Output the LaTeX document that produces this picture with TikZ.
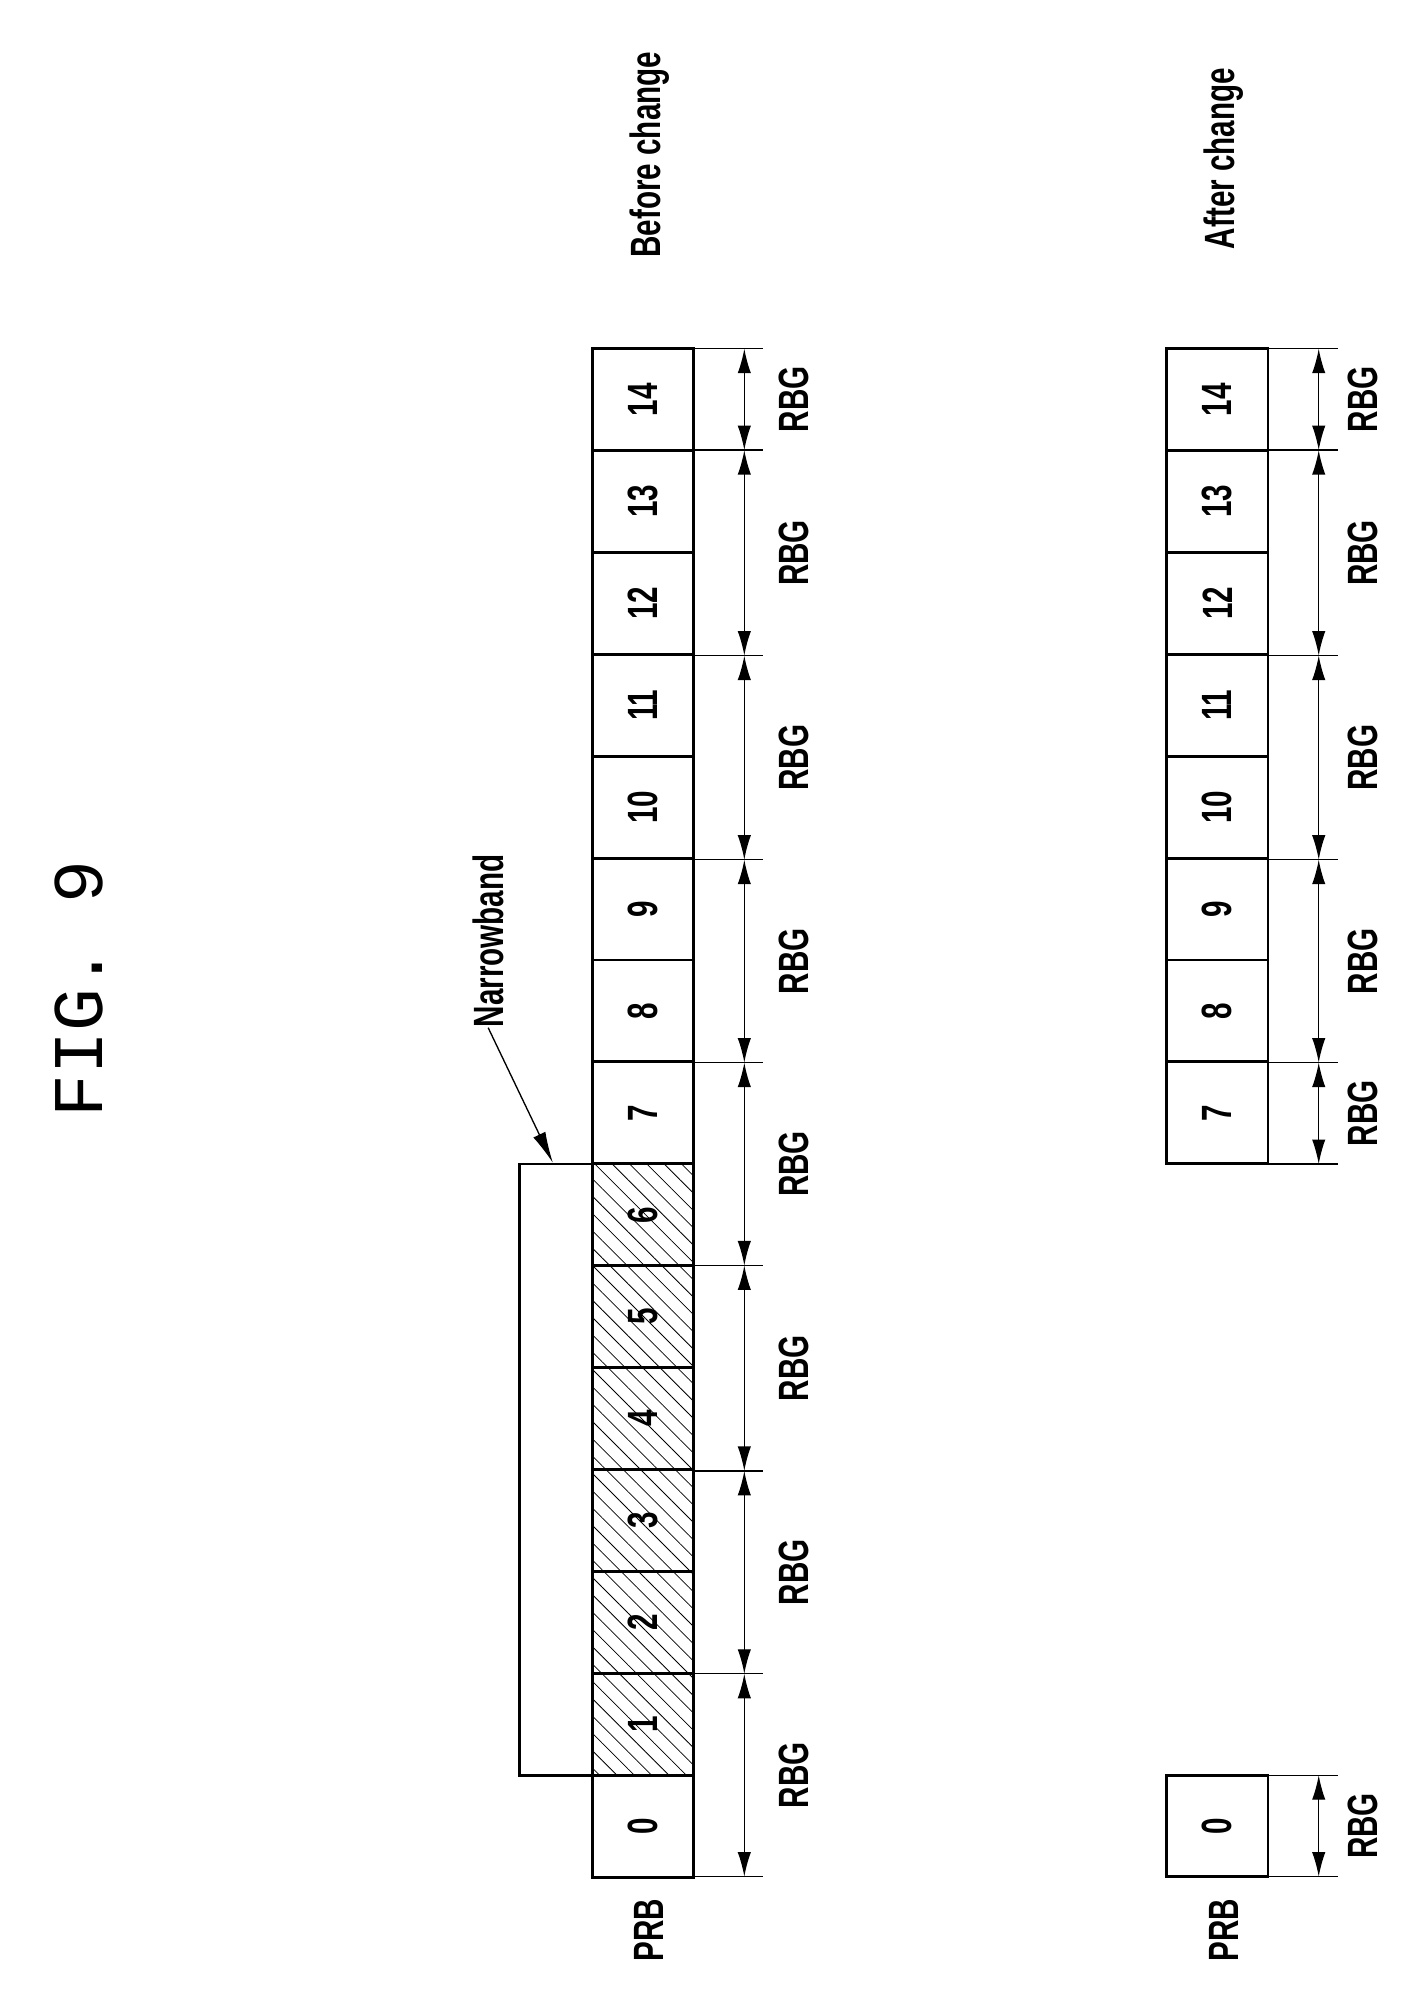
\documentclass[tikz,border=0pt]{standalone}
\usepackage{fontspec}
\setmainfont{Liberation Sans}
\newfontfamily\lblfont[FakeStretch=0.7]{Liberation Sans}
\newfontfamily\figfont{Liberation Mono}
\usetikzlibrary{arrows.meta,patterns.meta,positioning}
\begin{document}
\begin{tikzpicture}[x=0.02cm,y=-0.02cm,
    cell/.style={draw, line width=1.3pt},
    lbl/.style={rotate=90, font=\lblfont\fontsize{19}{19}\selectfont\bfseries, inner sep=0pt},
    rbg/.style={{Latex[length=11pt,width=6pt]}-{Latex[length=11pt,width=6pt]}, line width=0.6pt},
    tick/.style={line width=0.6pt}]
    \useasboundingbox (0,0) rectangle (1109.6,1569.4);
    % titles
    \node[rotate=90, font=\figfont\fontsize{32}{32}\selectfont] (fig) at (62,780) {FIG. 9};
    \node[lbl] (before) at (512,122) {Before change};
    \node[lbl] (after) at (965,125) {After change};
    \node[lbl] (prb1) at (512,1522) {PRB};
    \node[lbl] (prb2) at (965,1522) {PRB};
    % narrowband bracket (under the strip)
    \draw[line width=1.3pt] (467,918) -- (410,918) -- (410,1400) -- (467,1400);
    % before change strip
    \foreach \i in {0,...,14} {
        \pgfmathsetmacro{\yt}{1400-80.36*\i}
        \ifnum\i>0 \ifnum\i<7
            \fill[pattern={Lines[angle=-45,distance=5.5pt,line width=0.35pt]}] (467,\yt) rectangle (547,\yt+80.36);
        \fi\fi
        \draw[cell] (467,\yt) rectangle (547,\yt+80.36);
        \node[lbl] (b\i) at (507,\yt+40.18) {\i};
    }
    % after change strip
    \foreach \i in {7,...,14} {
        \pgfmathsetmacro{\yt}{1400-80.36*\i}
        \draw[cell] (920,\yt) rectangle (1000,\yt+80.36);
        \node[lbl] (a\i) at (960,\yt+40.18) {\i};
    }
    \draw[cell] (920,1400) rectangle (1000,1480);
    \node[lbl] (a0) at (960,1440) {0};
    % narrowband label
    \node[lbl] (nb) at (385,742) {Narrowband};
    \coordinate (nbtip) at (436,917);
    \draw[-{Latex[length=14pt,width=6pt]}, line width=0.6pt] (nb.west) -- (nbtip);
    % RBG before
    \foreach \ya/\yb in {275/355,355/517,517/678,678/838,838/998,998/1160,1160/1320,1320/1480} {
        \draw[tick] (547,\ya) -- (602,\ya);
        \draw[tick] (547,\yb) -- (602,\yb);
        \draw[rbg] (587,\ya) -- (587,\yb);
        \node[lbl] at (626,{(\ya+\yb)/2}) {RBG};
    }
    % RBG after
    \foreach \ya/\yb in {275/355,355/517,517/678,678/838,838/918,1400/1480} {
        \draw[tick] (1000,\ya) -- (1055,\ya);
        \draw[tick] (1000,\yb) -- (1055,\yb);
        \draw[rbg] (1040,\ya) -- (1040,\yb);
        \node[lbl] at (1075,{(\ya+\yb)/2}) {RBG};
    }
\end{tikzpicture}
\end{document}
